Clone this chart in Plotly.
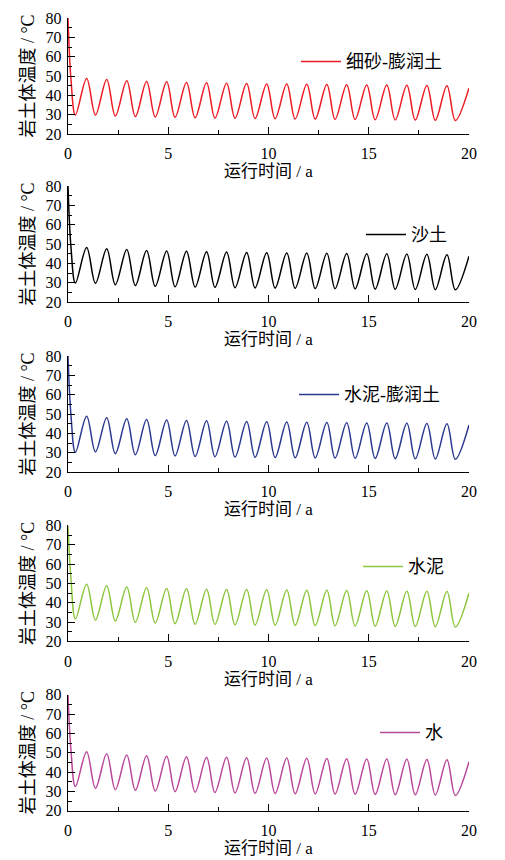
import plotly.graph_objects as go

# ---------------- data ----------------
series_names = ["细砂-膨润土", "沙土", "水泥-膨润土", "水泥", "水"]
series_colors = ["#ec1c24", "#000000", "#2b3990", "#8dc63f", "#b9479a"]

# times (years) of troughs and peaks, common to all series
trough_years = [0.37, 1.37, 2.36, 3.36, 4.35, 5.34, 6.34, 7.33, 8.33, 9.33,
                10.33, 11.33, 12.33, 13.32, 14.32, 15.32, 16.32, 17.32, 18.32, 19.32]
peak_years = [0.93, 1.93, 2.93, 3.92, 4.92, 5.91, 6.91, 7.91, 8.91, 9.91,
              10.91, 11.91, 12.91, 13.9, 14.9, 15.9, 16.9, 17.9, 18.9]
start_years = [0.0, 0.15]
end_year = 20.0

start_values = [[80, 48], [80, 48], [80, 49], [80, 52], [80, 51]]
end_values = [43.8, 43.7, 44.3, 45.0, 45.3]

peaks_sand_bentonite = [48.7, 48.2, 47.6, 47.2, 47.0, 46.7, 46.5, 46.3, 46.1, 45.9,
                        45.8, 45.7, 45.6, 45.5, 45.4, 45.3, 45.2, 45.1, 45.0]
troughs_sand_bentonite = [29.8, 29.8, 29.3, 29.0, 28.8, 28.6, 28.4, 28.2, 28.1, 28.0,
                          27.9, 27.8, 27.7, 27.6, 27.5, 27.4, 27.3, 27.2, 27.1, 27.0]

peaks_sand = [48.2, 47.6, 47.1, 46.7, 46.4, 46.2, 46.0, 45.8, 45.6, 45.5,
              45.4, 45.3, 45.2, 45.1, 45.0, 44.9, 44.8, 44.7, 44.5]
troughs_sand = [29.8, 29.7, 28.9, 28.5, 28.1, 27.9, 27.7, 27.6, 27.4, 27.3,
                27.2, 27.1, 27.0, 26.9, 26.8, 26.7, 26.6, 26.5, 26.4, 26.3]

peaks_cement_bentonite = [48.9, 48.1, 47.5, 47.1, 46.9, 46.7, 46.5, 46.3, 46.1, 46.0,
                          45.9, 45.7, 45.6, 45.5, 45.4, 45.3, 45.2, 45.1, 45.0]
troughs_cement_bentonite = [30.2, 30.4, 29.5, 28.9, 28.5, 28.3, 28.0, 27.9, 27.7, 27.6,
                            27.5, 27.4, 27.3, 27.2, 27.1, 27.0, 26.9, 26.8, 26.7, 26.6]

peaks_cement = [49.6, 48.8, 48.1, 47.8, 47.4, 47.2, 47.0, 46.9, 46.8, 46.7,
                46.6, 46.5, 46.4, 46.3, 46.2, 46.1, 46.0, 45.9, 45.8]
troughs_cement = [31.6, 31.1, 30.6, 29.9, 29.5, 29.2, 28.9, 28.8, 28.6, 28.5,
                  28.4, 28.3, 28.2, 28.1, 28.0, 27.9, 27.8, 27.7, 27.6, 27.4]

peaks_water = [50.5, 49.4, 48.8, 48.4, 48.1, 47.9, 47.7, 47.6, 47.4, 47.3,
               47.2, 47.1, 47.0, 46.9, 46.8, 46.7, 46.6, 46.5, 46.3]
troughs_water = [32.5, 31.6, 30.9, 30.6, 30.2, 29.9, 29.6, 29.4, 29.2, 29.0,
                 28.9, 28.8, 28.7, 28.6, 28.5, 28.4, 28.3, 28.2, 28.1, 27.9]

series_peaks = [peaks_sand_bentonite, peaks_sand, peaks_cement_bentonite, peaks_cement, peaks_water]
series_troughs = [troughs_sand_bentonite, troughs_sand, troughs_cement_bentonite, troughs_cement, troughs_water]

x_ticks = [0, 5, 10, 15, 20]
y_ticks = [20, 30, 40, 50, 60, 70, 80]
x_title = "运行时间 / a"
y_title = "岩土体温度 / °C"

# ---------------- layout constants (reference-window pixels) ----------------
OX, OY = 8, 9            # page offset of the plot div inside the window
WIN_W, WIN_H = 505, 860
W, H = WIN_W - OX, WIN_H - OY
left_px, right_px = 68, 469
top_px, bottom_px_ref = 19.3, 812.3
panel_top_px = [19.3, 187.3, 357.3, 526.7, 696.0]
panel_h_px = 116.0
legend_left_px = [296, 361, 294, 358, 375]
legend_y_px = [63, 236, 396, 568, 734]

ML = left_px - OX
MR = WIN_W - right_px
MT = top_px - OY
MB = WIN_H - bottom_px_ref
plot_w = W - ML - MR
plot_h = H - MT - MB

FONT = "Liberation Serif, Times New Roman, Noto Sans CJK SC, serif"


def clamp(v):
    return min(1.0, max(0.0, v))


def py_to_paper(py):
    return (bottom_px_ref - py) / plot_h


def px_to_paper(px):
    return (px - left_px) / plot_w


fig = go.Figure()
layout = dict(
    width=W, height=H,
    margin=dict(l=ML, r=MR, t=MT, b=MB, autoexpand=False),
    paper_bgcolor="white", plot_bgcolor="white",
    font=dict(family=FONT, size=15, color="#111111"),
    showlegend=True,
)

for i, name in enumerate(series_names):
    xs = list(start_years)
    ys = list(start_values[i])
    for k in range(len(trough_years)):
        xs.append(trough_years[k])
        ys.append(series_troughs[i][k])
        if k < len(peak_years):
            xs.append(peak_years[k])
            ys.append(series_peaks[i][k])
    xs.append(end_year)
    ys.append(end_values[i])

    n = i + 1
    xa = "x" if n == 1 else f"x{n}"
    ya = "y" if n == 1 else f"y{n}"
    lg = "legend" if n == 1 else f"legend{n}"
    fig.add_trace(go.Scatter(
        x=xs, y=ys, mode="lines", name=name,
        line=dict(color=series_colors[i], width=1.5, shape="spline", smoothing=1.0),
        xaxis=xa, yaxis=ya, legend=lg, showlegend=True,
    ))

    top = panel_top_px[i]
    d1 = clamp(py_to_paper(top))
    d0 = clamp(py_to_paper(top + panel_h_px))
    xkey = "xaxis" if n == 1 else f"xaxis{n}"
    ykey = "yaxis" if n == 1 else f"yaxis{n}"
    layout[xkey] = dict(
        domain=[0, 1], anchor=ya, range=[0, 20], automargin=False,
        tickmode="array", tickvals=x_ticks, ticktext=[str(v) for v in x_ticks],
        ticks="inside", ticklen=7, tickwidth=1.2, tickcolor="black",
        minor=dict(ticks="inside", dtick=2.5, tick0=0, ticklen=4, tickwidth=1.2, tickcolor="black"),
        showline=True, linecolor="black", linewidth=1.4,
        showgrid=False, zeroline=False, ticklabelstandoff=5,
        tickfont=dict(family=FONT, size=16, color="black"),
        title=dict(text=x_title, font=dict(family=FONT, size=17, color="black"), standoff=3),
    )
    layout[ykey] = dict(
        domain=[d0, d1], anchor=xa, range=[20, 80], automargin=False,
        tickmode="array", tickvals=y_ticks, ticktext=[str(v) for v in y_ticks],
        ticks="inside", ticklen=7, tickwidth=1.2, tickcolor="black",
        minor=dict(ticks="inside", dtick=5, tick0=20, ticklen=4, tickwidth=1.2, tickcolor="black"),
        showline=True, linecolor="black", linewidth=1.4,
        showgrid=False, zeroline=False, ticklabelstandoff=2,
        tickfont=dict(family=FONT, size=16, color="black"),
        title=dict(text=y_title, font=dict(family=FONT, size=18, color="black"), standoff=6),
    )
    layout[lg] = dict(
        x=px_to_paper(legend_left_px[i]), xanchor="left",
        y=py_to_paper(legend_y_px[i]), yanchor="middle",
        bgcolor="rgba(0,0,0,0)", borderwidth=0, itemwidth=40,
        font=dict(family=FONT, size=18, color="black"),
    )

fig.update_layout(**layout)
fig.write_html("out.html")
